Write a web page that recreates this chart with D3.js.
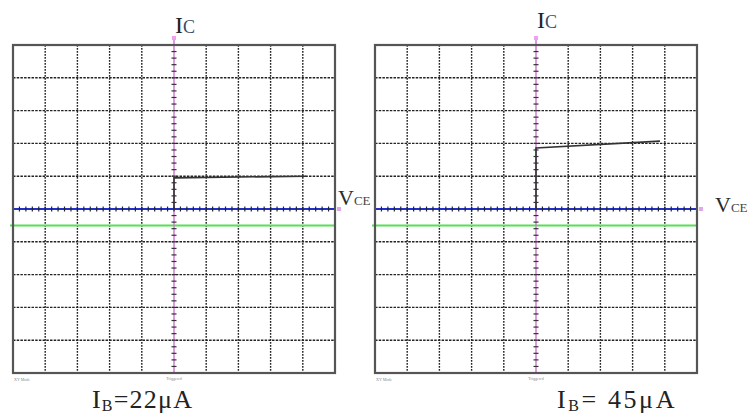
<!DOCTYPE html>
<html lang="en">
<head>
  <script src="https://d3js.org/d3.v7.min.js"></script>
  <style>
    body { margin: 0; background: #fff; }
    text { font-family: "Liberation Serif", "Times New Roman", serif; }
  </style>
</head>
<body>
<svg width="753" height="419"></svg>
<script>
// grid divisions (screen is 10 x 10 div)
var divs = [-5, -4, -3, -2, -1, 0, 1, 2, 3, 4, 5];
// base currents for the two panels
var ibLabels = ["=22\u03bcA", "= 45\u03bcA"];
// traces in divisions: VCE (x) and IC (y)
var traceVce = [[0, 0, 4.1], [0, 0, 3.85]];
var traceIc  = [[0, 0.95, 1.0], [0, 1.86, 2.07]];
var groundLevel = -0.5;

var svg = d3.select("svg");

var panels = [
  {x0: 13, x1: 335, labelX: 92, spacing: 1.2, icY: 33, vceDx: 3, vceDy: -4},
  {x0: 375, x1: 697, labelX: 557, spacing: 2.6, icY: 28, vceDx: 18, vceDy: 3}
];
var yTop = 45, yBottom = 373;

panels.forEach(function(p, k) {
  var x = d3.scaleLinear().domain([-5, 5]).range([p.x0, p.x1]);
  var y = d3.scaleLinear().domain([-5, 5]).range([yBottom, yTop]);
  var g = svg.append("g");
  var inner = divs.filter(function(d) { return d !== 0 && Math.abs(d) !== 5; });

  // dotted grid
  g.selectAll(".vg").data(inner)
    .enter().append("line")
    .attr("x1", function(d) { return x(d); }).attr("x2", function(d) { return x(d); })
    .attr("y1", yTop).attr("y2", yBottom)
    .attr("stroke", "#222").attr("stroke-width", 1.4)
    .attr("stroke-dasharray", "1.8,1.2");
  g.selectAll(".hg").data(inner)
    .enter().append("line")
    .attr("y1", function(d) { return y(d); }).attr("y2", function(d) { return y(d); })
    .attr("x1", p.x0).attr("x2", p.x1)
    .attr("stroke", "#222").attr("stroke-width", 1.4)
    .attr("stroke-dasharray", "2.5,1.2");

  // ground line (green)
  g.append("line")
    .attr("x1", p.x0 - 3).attr("x2", p.x1)
    .attr("y1", y(groundLevel)).attr("y2", y(groundLevel))
    .attr("stroke", "#55e055").attr("stroke-width", 2);

  // centre vertical axis (purple with ticks)
  g.append("line")
    .attr("x1", x(0)).attr("x2", x(0))
    .attr("y1", yTop - 8).attr("y2", yBottom)
    .attr("stroke", "#d07ad0").attr("stroke-width", 1.5);
  g.append("rect")
    .attr("x", x(0) - 2).attr("y", yTop - 9).attr("width", 4).attr("height", 4)
    .attr("fill", "#f0a0f0");
  var minor = d3.range(-5, 5.01, 0.2);
  g.selectAll(".vt").data(minor).enter().append("line")
    .attr("x1", x(0) - 2.5).attr("x2", x(0) + 2.5)
    .attr("y1", function(d) { return y(d); }).attr("y2", function(d) { return y(d); })
    .attr("stroke", "#333").attr("stroke-width", 1.2);

  // centre horizontal axis (blue with ticks)
  g.append("line")
    .attr("x1", p.x0).attr("x2", p.x1)
    .attr("y1", y(0)).attr("y2", y(0))
    .attr("stroke", "#2030c8").attr("stroke-width", 2);
  g.selectAll(".ht").data(minor).enter().append("line")
    .attr("y1", y(0) - 2.5).attr("y2", y(0) + 2.5)
    .attr("x1", function(d) { return x(d); }).attr("x2", function(d) { return x(d); })
    .attr("stroke", "#223").attr("stroke-width", 1.2);
  g.append("rect")
    .attr("x", p.x1 + 2).attr("y", y(0) - 2).attr("width", 4).attr("height", 4)
    .attr("fill", "#e0a8e8");

  // trace
  var pts = traceVce[k].map(function(v, i) { return [x(v), y(traceIc[k][i])]; });
  g.append("path")
    .attr("d", d3.line()(pts))
    .attr("fill", "none").attr("stroke", "#333").attr("stroke-width", 1.6);

  // border
  g.append("rect")
    .attr("x", p.x0).attr("y", yTop).attr("width", p.x1 - p.x0).attr("height", yBottom - yTop)
    .attr("fill", "none").attr("stroke", "#555").attr("stroke-width", 2.2);

  // tiny status text
  g.append("text").attr("x", p.x0 + 1).attr("y", yBottom + 8)
    .attr("font-size", 4).attr("fill", "#888").text("XY Mode");
  g.append("text").attr("x", x(0)).attr("y", yBottom + 7)
    .attr("font-size", 4).attr("fill", "#888").attr("text-anchor", "middle").text("Triggered");

  // Ic label
  var ic = g.append("text").attr("x", x(0) + 1).attr("y", p.icY);
  ic.append("tspan").attr("font-size", 24).attr("fill", "#222").text("I");
  ic.append("tspan").attr("font-size", 18).attr("fill", "#3a4a66").text("C");

  // Vce label
  var vce = g.append("text").attr("x", p.x1 + p.vceDx).attr("y", y(0) + p.vceDy);
  vce.append("tspan").attr("font-size", 22).attr("fill", "#2a2a2a").text("V");
  vce.append("tspan").attr("font-size", 13).attr("fill", "#444").text("CE");

  // Ib label
  var ib = g.append("text").attr("x", p.labelX).attr("y", 408)
    .attr("letter-spacing", p.spacing);
  ib.append("tspan").attr("font-size", 26).attr("fill", "#222").text("I");
  ib.append("tspan").attr("font-size", 16).attr("dy", 3).attr("fill", "#222").text("B");
  ib.append("tspan").attr("font-size", 26).attr("dy", -3).attr("fill", "#222").text(ibLabels[k]);
});
</script>
</body>
</html>
